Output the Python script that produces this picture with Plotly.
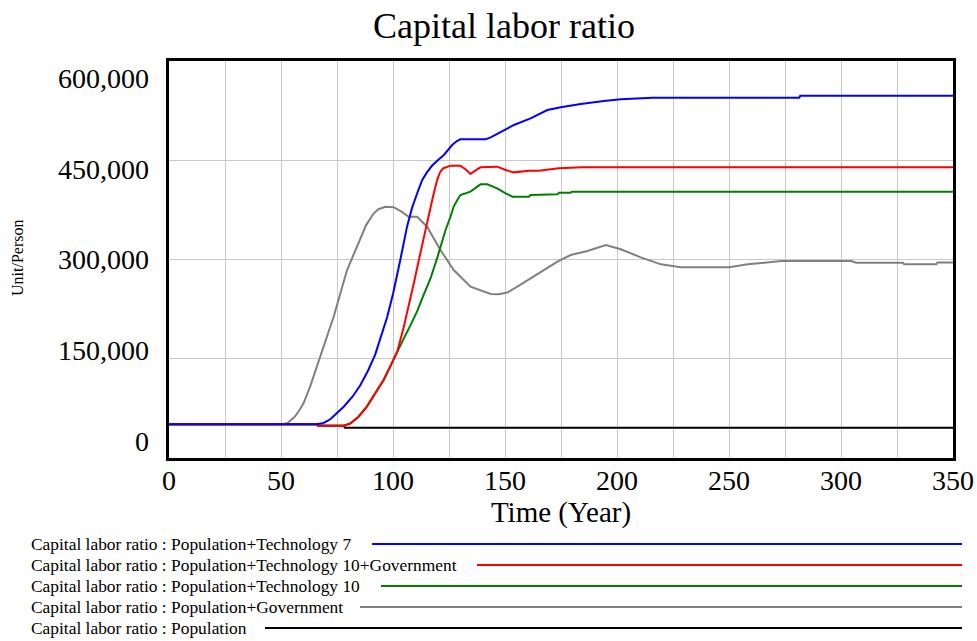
import plotly.graph_objects as go

# ---- chart text ----
chart_title = "Capital labor ratio"
x_title = "Time (Year)"
y_title = "Unit/Person"

# ---- axis ticks ----
x_ticks = [0, 50, 100, 150, 200, 250, 300, 350]
x_minor = [25, 75, 125, 175, 225, 275, 325]
y_ticks = [0, 150000, 300000, 450000, 600000]
y_tick_text = ["0", "150,000", "300,000", "450,000", "600,000"]

# ---- series (Time in years, Capital labor ratio in Unit/Person) ----
t_pop = [0, 66, 66.5, 78, 78.5, 350]
v_pop = [51000, 51000, 48800, 48800, 45800, 45800]

t_pop_gov = [0, 51.1, 53, 56, 58, 60.1, 63, 67.5, 73.5, 79.5, 85.4, 88, 91.4, 93.5,
             96.6, 100.3, 104, 107, 110.8, 115.2, 121.2, 127.1, 134.6, 139.1, 143.6,
             147.3, 151, 155.5, 162.9, 173.4, 179.3, 186.8, 195, 201.7, 210.6, 219.6,
             228.5, 250.1, 258.4, 273.3, 304.6, 306.8, 327.7, 328.2, 342.6, 343, 350]
v_pop_gov = [51000, 51000, 53000, 62000, 71000, 83000, 108000, 153100, 213500,
             284100, 329500, 352000, 369800, 376000, 379800, 379000, 372000, 364700,
             364700, 349600, 314300, 284100, 258900, 252800, 247800, 247400, 250000,
             258900, 274000, 296700, 306800, 312800, 321900, 315400, 303300, 292700,
             288200, 288200, 292700, 297700, 297700, 295100, 295100, 292700, 292700,
             295600, 295600]

t_tech10 = [0, 66, 66.5, 78, 81, 84.5, 88.4, 92, 95.8, 99, 102, 105, 108, 110.8,
            113.5, 116.7, 119.7, 121.2, 123.5, 125.7, 127.1, 128.7, 130.1, 134.6,
            137, 139.1, 142.1, 146.5, 150.3, 153.3, 160.7, 161.4, 173.4, 174.1,
            179.3, 179.8, 350]
v_tech10 = [51000, 51000, 48800, 48800, 52400, 62000, 78000, 97000, 118000, 140000,
            162000, 182000, 202000, 222000, 245000, 271000, 302000, 319000, 345000,
            365000, 380000, 390000, 397500, 402500, 408000, 413600, 413600, 407500,
            400000, 395000, 395000, 397500, 398500, 401000, 401000, 402500, 402500]

t_tech10_gov = [0, 66, 66.5, 78, 81, 84.5, 88.4, 92, 95.8, 99, 102, 104.8, 107,
                109.3, 111.2, 113.7, 115.2, 118.2, 119.7, 121, 122.5, 125.7, 130.1,
                132.5, 134.6, 137, 139.1, 146.5, 150.3, 154, 160.7, 165, 174.1,
                184.6, 350]
v_tech10_gov = [51000, 51000, 48800, 48800, 52400, 62000, 78000, 97000, 118000,
                140000, 162000, 198000, 228000, 264000, 294000, 330000, 355000,
                400000, 420000, 432000, 438000, 441800, 441800, 436000, 429200,
                435000, 439300, 440300, 435200, 431700, 434200, 434200, 437800,
                439300, 439300]

t_tech7 = [0, 66, 69, 72, 78, 82, 85.4, 89, 92, 95, 97.4, 100, 101.8, 103.3, 106.3,
           108.5, 110.8, 113, 115.2, 117.5, 120, 122.7, 126.4, 128.5, 130.1, 141.3,
           143.6, 154, 161.4, 168.9, 174.9, 183.8, 194.2, 201.7, 215.9, 281.4,
           281.8, 350]
v_tech7 = [51000, 51000, 53000, 58500, 77500, 93000, 110000, 133000, 156000,
           186000, 213000, 248000, 279000, 300000, 350000, 378000, 400100, 420000,
           432000, 442000, 450000, 458000, 473000, 479000, 481600, 481600, 484600,
           503300, 513300, 525900, 530000, 535000, 539500, 542100, 544500, 544500,
           547600, 547600]

# drawing order bottom -> top; legend lists them top -> bottom in reverse
series = [
    ("Capital labor ratio : Population", t_pop, v_pop, "#000000"),
    ("Capital labor ratio : Population+Government", t_pop_gov, v_pop_gov, "#808080"),
    ("Capital labor ratio : Population+Technology 10", t_tech10, v_tech10, "#008000"),
    ("Capital labor ratio : Population+Technology 10+Government", t_tech10_gov, v_tech10_gov, "#ff0000"),
    ("Capital labor ratio : Population+Technology 7", t_tech7, v_tech7, "#0000ff"),
]

FONT = "Liberation Serif, Times New Roman, serif"
GRID = "#c8c8c8"

W, H = 977, 641
L, R, T, B = 169, 24, 61, 183
PW, PH = W - L - R, H - T - B


def px_x(x):
    return (x - L) / PW


def px_y(y):
    return (H - B - y) / PH


fig = go.Figure()
for name, t, v, color in series:
    fig.add_trace(go.Scatter(x=t, y=v, mode="lines", name=name,
                             line=dict(color=color, width=2),
                             showlegend=False, hoverinfo="skip"))

# empty trace so the label-only axis is drawn
fig.add_trace(go.Scatter(x=[None], y=[None], yaxis="y2", mode="lines",
                         showlegend=False, hoverinfo="skip"))

fig.update_layout(
    width=W, height=H,
    margin=dict(l=L, r=R, t=T, b=B, autoexpand=False),
    paper_bgcolor="white", plot_bgcolor="white",
    font=dict(family=FONT, color="black"),
    title=dict(text=chart_title, x=504 / W, xref="container", xanchor="center",
               y=1 - 25 / H, yref="container", yanchor="middle",
               font=dict(size=36, family=FONT, color="black")),
    xaxis=dict(range=[0, 350], tickvals=x_ticks, showgrid=True, gridcolor=GRID,
               gridwidth=1, zeroline=False, automargin=False,
               minor=dict(tickvals=x_minor, showgrid=True, gridcolor=GRID, gridwidth=1),
               showline=True, linewidth=3, linecolor="black", mirror=True,
               ticks="", tickfont=dict(size=28, family=FONT),
               ticklabelstandoff=-5,
               title=dict(text=x_title, font=dict(size=29, family=FONT), standoff=6)),
    yaxis=dict(range=[0, 600000], tickvals=y_ticks, showticklabels=False,
               showgrid=True, gridcolor=GRID, gridwidth=1, zeroline=False,
               automargin=False,
               showline=True, linewidth=3, linecolor="black", mirror=True, ticks=""),
    yaxis2=dict(overlaying="y", side="left", range=[-28100, 628100],
                tickvals=y_ticks, ticktext=y_tick_text, showgrid=False,
                zeroline=False, showline=False, ticks="", automargin=False,
                tickfont=dict(size=28, family=FONT), ticklabelstandoff=19),
)

# y-axis unit label
fig.add_annotation(text=y_title, textangle=-90, xref="paper", yref="paper",
                   x=px_x(17), y=px_y(258), xanchor="center", yanchor="middle",
                   showarrow=False, font=dict(size=16, family=FONT))

# legend block under the chart: label then a sample line out to the right
legend_rows_y = [544, 565, 586, 607, 628]
legend_line_start = [372, 477, 381, 360, 265]
for (name, _, _, color), y, x0 in zip(series[::-1], legend_rows_y, legend_line_start):
    fig.add_annotation(text=name, xref="paper", yref="paper", x=px_x(29), y=px_y(y),
                       xanchor="left", yanchor="middle", showarrow=False,
                       font=dict(size=17.4, family=FONT))
    fig.add_shape(type="line", xref="paper", yref="paper",
                  x0=px_x(x0), x1=px_x(962), y0=px_y(y), y1=px_y(y),
                  line=dict(color=color, width=2))

fig.write_html("out.html")
